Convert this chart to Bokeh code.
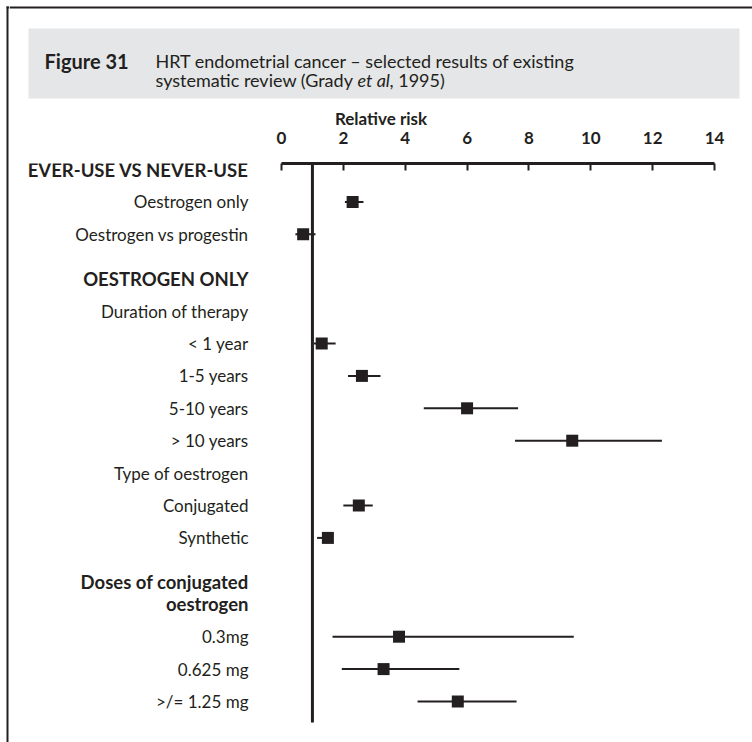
from bokeh.plotting import figure
from bokeh.models import ColumnDataSource, Range1d, FixedTicker
from bokeh.layouts import row, column
from bokeh.core.properties import value
from bokeh.embed import file_html
from bokeh.resources import INLINE

# ---------------- data ----------------
categories = [
    "EVER-USE VS NEVER-USE",
    "Oestrogen only",
    "Oestrogen vs progestin",
    "OESTROGEN ONLY",
    "Duration of therapy",
    "< 1 year",
    "1-5 years",
    "5-10 years",
    "> 10 years",
    "Type of oestrogen",
    "Conjugated",
    "Synthetic",
    "Doses of conjugated\noestrogen",
    "0.3mg",
    "0.625 mg",
    ">/= 1.25 mg",
]
kinds = ["section", "item", "item", "section", "sub", "item", "item", "item",
         "item", "sub", "item", "item", "section", "item", "item", "item"]
relative_risk = [None, 2.3, 0.7, None, None, 1.3, 2.6, 6.0, 9.4, None, 2.5, 1.5, None, 3.8, 3.3, 5.7]
ci_low = [None, 2.05, 0.45, None, None, 1.05, 2.15, 4.6, 7.55, None, 2.0, 1.15, None, 1.65, 1.95, 4.4]
ci_high = [None, 2.65, 1.1, None, None, 1.75, 3.2, 7.65, 12.3, None, 2.95, 1.5, None, 9.45, 5.75, 7.6]
null_value = 1
ticks = [0, 2, 4, 6, 8, 10, 12, 14]
axis_title = "Relative risk"
fig_number = "Figure 31"
title_line1 = "HRT endometrial cancer \u2013 selected results of existing"
title_line2 = ["systematic review (Grady ", "et al", ", 1995)"]

# ---------------- layout constants (page pixels) ----------------
W, H = 752, 742
STRIP_W = 9
TOP_H = 100
AXIS_TOP = 163
REF_BOTTOM = 722
X0_PX, X14_PX = 281, 714
PX_PER_UNIT = (X14_PX - X0_PX) / (ticks[-1] - ticks[0])
LABEL_RIGHT_PX = 248
ROW0_Y, ROW_STEP, SECTION_GAP, LINE_STEP = 169, 32.4, 12, 22
INK = "#231f20"
BOX = "#e5e6e7"
FONT = "Lato"
LABEL_SIZE = "17px"
HEAD_SIZE = "18.5px"


def px_to_rr(px):
    return (px - X0_PX) / PX_PER_UNIT + ticks[0]


# row positions
lab_y, lab_t, lab_b = [], [], []
row_y = []
y = ROW0_Y
for i, (cat, kind) in enumerate(zip(categories, kinds)):
    if i > 0:
        y += ROW_STEP
        if kind == "section":
            y += SECTION_GAP
    row_y.append(y)
    for j, line in enumerate(cat.split("\n")):
        if j > 0:
            y += LINE_STEP
        lab_y.append(y)
        lab_t.append(line)
        lab_b.append(kind == "section")

common = dict(toolbar_location=None, output_backend="svg", outline_line_color=None,
              background_fill_color="white", border_fill_color="white")

# ---------------- left strip (frame border) ----------------
strip = figure(width=STRIP_W, height=H, x_range=Range1d(0, STRIP_W), y_range=Range1d(H, 0),
               x_axis_location=None, y_axis_location=None, min_border=0, **common)
strip.grid.visible = False
strip.segment(x0=[7], y0=[6], x1=[7], y1=[H], line_color=INK, line_width=2)
strip.segment(x0=[6], y0=[7], x1=[STRIP_W], y1=[7], line_color=INK, line_width=2)

# ---------------- title block ----------------
top = figure(width=W - STRIP_W, height=TOP_H, x_range=Range1d(STRIP_W, W), y_range=Range1d(TOP_H, 0),
             x_axis_location=None, y_axis_location=None, min_border=0, **common)
top.grid.visible = False
top.segment(x0=[STRIP_W], y0=[7], x1=[W], y1=[7], line_color=INK, line_width=2)
top.quad(left=[28], right=[739], top=[28], bottom=[98], fill_color=BOX, line_color=None)
L1, L2 = 60, 79
top.text(x=[44], y=[L1], text=[fig_number], text_font=value(FONT), text_font_size="20px",
         text_font_style="bold", text_color=INK, text_baseline="alphabetic", text_align="left")
top.text(x=[155], y=[L1], text=[title_line1], text_font=value(FONT), text_font_size="18px",
         text_color=INK, text_baseline="alphabetic", text_align="left")
t2_x = [155, 357, 389]
t2_style = ["normal", "italic", "normal"]
for tx, tt, ts in zip(t2_x, title_line2, t2_style):
    top.text(x=[tx], y=[L2], text=[tt], text_font=value(FONT), text_font_size="18px",
             text_font_style=ts, text_color=INK, text_baseline="alphabetic", text_align="left")

# ---------------- main forest plot ----------------
main = figure(width=W - STRIP_W, height=H - TOP_H,
              x_range=Range1d(px_to_rr(STRIP_W), px_to_rr(W)), y_range=Range1d(H, AXIS_TOP),
              x_axis_location="above", y_axis_location=None,
              min_border_left=0, min_border_right=0, min_border_bottom=0,
              min_border_top=AXIS_TOP - TOP_H, **common)
main.grid.visible = False

ax = main.xaxis[0]
ax.ticker = FixedTicker(ticks=ticks)
ax.bounds = (ticks[0], ticks[-1])
ax.axis_label = axis_title
ax.axis_label_text_font = FONT
ax.axis_label_text_font_style = "bold"
ax.axis_label_text_font_size = "17px"
ax.axis_label_text_color = INK
ax.axis_label_standoff = 0
ax.major_label_text_font = FONT
ax.major_label_text_font_style = "bold"
ax.major_label_text_font_size = "17px"
ax.major_label_text_color = INK
ax.major_label_standoff = 20
ax.axis_line_color = INK
ax.axis_line_width = 3
ax.major_tick_line_color = INK
ax.major_tick_line_width = 2
ax.major_tick_in = 7
ax.major_tick_out = 0
ax.minor_tick_line_color = None

# reference line at RR = 1
main.segment(x0=[null_value], y0=[AXIS_TOP], x1=[null_value], y1=[REF_BOTTOM],
             line_color=INK, line_width=3)

# estimates
idx = [i for i, v in enumerate(relative_risk) if v is not None]
src = ColumnDataSource(dict(
    y=[row_y[i] for i in idx],
    rr=[relative_risk[i] for i in idx],
    lo=[ci_low[i] for i in idx],
    hi=[ci_high[i] for i in idx],
))
main.segment(x0="lo", y0="y", x1="hi", y1="y", source=src, line_color=INK, line_width=2)
main.scatter(x="rr", y="y", source=src, marker="square", size=12,
             fill_color=INK, line_color=INK, line_width=0)

# row labels
lx = px_to_rr(LABEL_RIGHT_PX)
norm = [k for k, b in enumerate(lab_b) if not b]
bold = [k for k, b in enumerate(lab_b) if b]
main.text(x=[lx] * len(norm), y=[lab_y[k] for k in norm], text=[lab_t[k] for k in norm],
          text_font=value(FONT), text_font_size=LABEL_SIZE, text_color=INK,
          text_align="right", text_baseline="middle")
main.text(x=[lx] * len(bold), y=[lab_y[k] for k in bold], text=[lab_t[k] for k in bold],
          text_font=value(FONT), text_font_size=HEAD_SIZE, text_font_style="bold", text_color=INK,
          text_align="right", text_baseline="middle")

layout = row(strip, column(top, main))
open("out.html", "w").write(file_html(layout, INLINE))
